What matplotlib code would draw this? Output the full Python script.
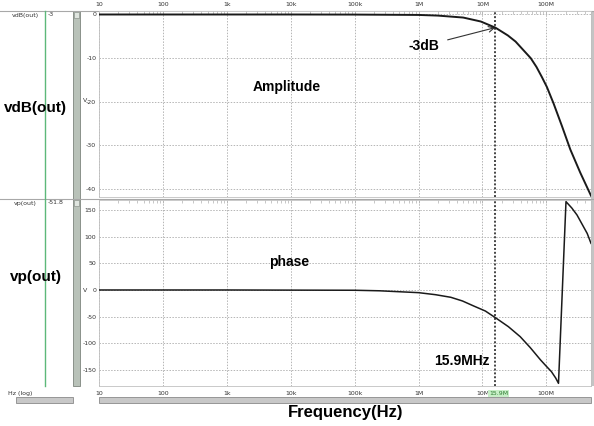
import matplotlib
matplotlib.use("Agg")
from matplotlib import pyplot as plt
from matplotlib.patches import Rectangle
import numpy as np

W, H = 594, 426

# magnitude trace
freq_db = [10, 100, 1e3, 1e4, 1e5, 1e6, 2e6, 5e6, 9.4e6, 15.9e6, 25e6, 33e6,
           44e6, 57e6, 70e6, 85e6, 102e6, 130e6, 176e6, 237e6, 339e6, 500e6]
vdb = [0, 0, 0, 0, -0.02, -0.1, -0.25, -0.7, -1.6, -3.0, -4.8, -6.2,
       -8.2, -10.0, -12.0, -14.3, -16.6, -20.4, -25.6, -30.9, -36.2, -41.5]

# phase trace (wraps past -180)
freq_ph = [10, 1e3, 1e5, 2.45e5, 1e6, 1.84e6, 3.2e6, 4.87e6, 7.3e6, 11.1e6,
           15.9e6, 25.5e6, 39e6, 56e6, 81e6, 100e6, 120e6, 140e6, 155e6, 203e6,
           250e6, 302e6, 436e6, 500e6]
vp = [0, 0, -0.5, -1.5, -5, -8.8, -13.7, -20.6, -30, -39.4,
      -51.8, -68.8, -87.5, -108, -131, -143, -153, -165, -175, 165.6,
      153.8, 140.6, 106, 87.5]

decades = [10, 100, 1e3, 1e4, 1e5, 1e6, 1e7, 1e8]
dec_labels = ["10", "100", "1k", "10k", "100k", "1M", "10M", "100M"]
db_ticks = [0, -10, -20, -30, -40]
ph_ticks = [150, 100, 50, 0, -50, -100, -150]
cursor_f = 15.9e6

fig = plt.figure(figsize=(W / 100, H / 100), dpi=100)
fig.patch.set_facecolor("white")

# background axes in pixel coordinates for the window decorations
bg = fig.add_axes([0, 0, 1, 1])
bg.set_xlim(0, W)
bg.set_ylim(H, 0)
bg.axis("off")

grey = "#a8a8a8"
bg.plot([0, W], [11, 11], color=grey, lw=0.8)
bg.plot([0, W], [199, 199], color=grey, lw=0.8)
bg.plot([45, 45], [11, 386], color="#5cb87a", lw=1.0)
bg.add_patch(Rectangle((73, 11), 7, 375, facecolor="#b9c2b9", edgecolor="#7d857d", lw=0.6))
bg.add_patch(Rectangle((74, 12), 5, 6, facecolor="#dfe5df", edgecolor="#7d857d", lw=0.4))
bg.add_patch(Rectangle((74, 200), 5, 6, facecolor="#dfe5df", edgecolor="#7d857d", lw=0.4))
bg.add_patch(Rectangle((591, 11), 3, 375, facecolor="#c4c4c4", edgecolor="none"))
# scrollbars along the bottom
bg.add_patch(Rectangle((16, 397), 57, 6, facecolor="#c8c8c8", edgecolor="#8a8a8a", lw=0.6))
bg.add_patch(Rectangle((99, 397), 492, 6, facecolor="#c8c8c8", edgecolor="#8a8a8a", lw=0.6))

small = dict(fontsize=4.5, color="#333333", family="DejaVu Sans")
bg.text(39, 15, "vdB(out)", ha="right", va="center", **small)
bg.text(48, 15, "-3", ha="left", va="center", **small)
bg.text(37, 203, "vp(out)", ha="right", va="center", **small)
bg.text(48, 203, "-51.8", ha="left", va="center", **small)
bg.text(8, 393, "Hz (log)", ha="left", va="center", **small)
bg.text(83, 101, "V", ha="left", va="center", **small)
bg.text(83, 290, "V", ha="left", va="center", **small)

big = dict(fontsize=11, fontweight="bold", family="Liberation Sans", color="black")
bg.text(35, 108, "vdB(out)", ha="center", va="center", **big)
bg.text(36, 277, "vp(out)", ha="center", va="center", **big)
bg.text(346, 413, "Frequency(Hz)", ha="center", va="center", fontsize=12,
        fontweight="bold", family="Liberation Sans")

left, width = 99 / W, 492 / W
ax1 = fig.add_axes([left, (H - 197) / H, width, 186 / H])
ax2 = fig.add_axes([left, (H - 386) / H, width, 186 / H])

for ax in (ax1, ax2):
    ax.set_xscale("log")
    ax.set_xlim(10, 5e8)
    ax.set_xticks(decades)
    ax.set_xticklabels([])
    ax.xaxis.set_minor_locator(matplotlib.ticker.LogLocator(subs=np.arange(2, 10)))
    ax.xaxis.set_minor_formatter(matplotlib.ticker.NullFormatter())
    ax.tick_params(axis="x", which="both", direction="in", top=True, bottom=False,
                   length=2, color="#b0b0b0", width=0.5)
    ax.tick_params(axis="y", which="both", length=0, labelsize=4.5,
                   labelcolor="#333333", pad=2)
    ax.grid(True, which="major", linestyle=(0, (1.5, 1.5)), color="#b5b5b5", lw=0.7)
    for s in ax.spines.values():
        s.set_color("#c0c0c0")
        s.set_linewidth(0.6)
    ax.axvline(cursor_f, color="#444444", lw=1.4, linestyle=(0, (1, 1)), zorder=3)

ax1.plot(freq_db, vdb, color="#1a1a1a", lw=1.4, zorder=4)
ax1.set_ylim(-41.8, 0.8)
ax1.set_yticks(db_ticks)
ax1.set_yticklabels([str(t) for t in db_ticks])

ax2.plot(freq_ph, vp, color="#1a1a1a", lw=1.1, zorder=4)
ax2.set_ylim(-180, 168.7)
ax2.set_yticks(ph_ticks)
ax2.set_yticklabels([str(t) for t in ph_ticks])

# decade labels above the top panel and below the bottom panel
for f, lab in zip(decades, dec_labels):
    ax1.text(f, 1.035, lab, transform=ax1.get_xaxis_transform(), ha="center",
             va="center", **small)
    ax2.text(f, -0.04, lab, transform=ax2.get_xaxis_transform(), ha="center",
             va="center", **small)
ax2.text(cursor_f * 1.13, -0.04, "15.9M", transform=ax2.get_xaxis_transform(),
         ha="center", va="center", fontsize=4.5, color="#2e7d32",
         bbox=dict(boxstyle="square,pad=0.15", facecolor="#c8efc8", edgecolor="none"))

lab = dict(fontsize=10, fontweight="bold", family="Liberation Sans")
ax1.text(8.7e3, -16.5, "Amplitude", ha="center", va="center", **lab)
ax1.annotate("-3dB", xy=(cursor_f, -3.0), xytext=(1.22e6, -7.2), ha="center",
             va="center", arrowprops=dict(arrowstyle="->", color="#333333", lw=0.8,
                                          shrinkA=4, shrinkB=0), **lab)
ax2.text(9.4e3, 52, "phase", ha="center", va="center", **lab)
ax2.text(4.8e6, -133, "15.9MHz", ha="center", va="center", **lab)

fig.savefig("out.png", dpi=100)
